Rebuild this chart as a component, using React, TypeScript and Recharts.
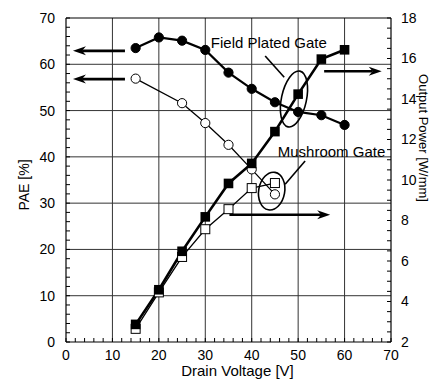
import React from 'react';
import {
  ComposedChart,
  Line,
  XAxis,
  YAxis,
  CartesianGrid,
  ReferenceLine,
  ReferenceDot,
  Label,
} from 'recharts';

// Field plated gate
const fpVoltage = [15, 20, 25, 30, 35, 40, 45, 50, 55, 60];
const fpPae = [63.5, 65.8, 65.1, 63.1, 58.2, 54.7, 51.8, 49.7, 49.0, 46.9];
const fpPower = [2.87, 4.58, 6.48, 8.18, 9.83, 10.82, 12.39, 14.24, 15.97, 16.43];

// Mushroom gate
const mgPaeVoltage = [15, 25, 30, 35, 40, 45];
const mgPae = [56.9, 51.6, 47.3, 42.6, 37.3, 31.9];
const mgPowerVoltage = [15, 20, 25, 30, 35, 40, 45];
const mgPower = [2.65, 4.45, 6.2, 7.57, 8.56, 9.6, 9.85];

// Axes
const xTicks = [0, 2, 4, 6, 8, 10, 12, 14, 16, 18, 20, 22, 24, 26, 28, 30, 32, 34, 36, 38, 40, 42, 44, 46, 48, 50, 52, 54, 56, 58, 60, 62, 64, 66, 68, 70];
const xMajor = [0, 10, 20, 30, 40, 50, 60, 70];
const paeTicks = [0, 2, 4, 6, 8, 10, 12, 14, 16, 18, 20, 22, 24, 26, 28, 30, 32, 34, 36, 38, 40, 42, 44, 46, 48, 50, 52, 54, 56, 58, 60, 62, 64, 66, 68, 70];
const paeMajor = [0, 10, 20, 30, 40, 50, 60, 70];
const powerTicks = [2, 2.5, 3, 3.5, 4, 4.5, 5, 5.5, 6, 6.5, 7, 7.5, 8, 8.5, 9, 9.5, 10, 10.5, 11, 11.5, 12, 12.5, 13, 13.5, 14, 14.5, 15, 15.5, 16, 16.5, 17, 17.5, 18];
const powerMajor = [2, 4, 6, 8, 10, 12, 14, 16, 18];
const gridX = [10, 20, 30, 40, 50, 60];
const gridY = [10, 20, 30, 40, 50, 60];

// Annotations (data coordinates)
const leftArrows = [
  { y: 62.9, from: 12.7, to: 1.5 },
  { y: 56.8, from: 12.7, to: 1.5 },
];
const rightArrows = [
  { y: 58.5, from: 55.6, to: 68 },
  { y: 27.5, from: 35.2, to: 56.9 },
];
const fieldLabel = { x: 31.2, y: 63.6, text: 'Field Plated Gate' };
const mushLabel = { x: 45.6, y: 40.0, text: 'Mushroom Gate' };
const fieldLeader = [{ x: 42.9, y: 61.8 }, { x: 47.0, y: 57.2 }];
const mushLeader = [{ x: 51.5, y: 39.1 }, { x: 47.2, y: 34.1 }];
const fieldEllipse = { x: 49.1, y: 52.5 };
const mushEllipse = { x: 44.3, y: 32.6 };

const FONT = 'Liberation Sans, Arial, sans-serif';

const zip = (xs: number[], ys: number[]) => xs.map((v, i) => ({ v, y: ys[i] }));

const fpPaeData = zip(fpVoltage, fpPae);
const fpPowerData = zip(fpVoltage, fpPower);
const mgPaeData = zip(mgPaeVoltage, mgPae);
const mgPowerData = zip(mgPowerVoltage, mgPower);

const FilledCircle = (p: any) => <circle key={p.index} cx={p.cx} cy={p.cy} r={4.6} fill="#000" stroke="#000" />;
const OpenCircle = (p: any) => <circle key={p.index} cx={p.cx} cy={p.cy} r={4.6} fill="#fff" stroke="#000" strokeWidth={1} />;
const FilledSquare = (p: any) => <rect key={p.index} x={p.cx - 4.8} y={p.cy - 4.8} width={9.6} height={9.6} fill="#000" />;
const OpenSquare = (p: any) => <rect key={p.index} x={p.cx - 4.5} y={p.cy - 4.5} width={9} height={9} fill="#fff" stroke="#000" strokeWidth={1} />;

const ArrowShape = (props: any) => {
  const { x1, y1, x2, y2 } = props;
  const dx = x2 - x1;
  const dy = y2 - y1;
  const len = Math.hypot(dx, dy) || 1;
  const ux = dx / len;
  const uy = dy / len;
  const hl = 13;
  const hw = 4.5;
  const bx = x2 - ux * hl;
  const by = y2 - uy * hl;
  const px = -uy;
  const py = ux;
  const nx = x2 - ux * hl * 0.7;
  const ny = y2 - uy * hl * 0.7;
  return (
    <g>
      <line x1={x1} y1={y1} x2={nx} y2={ny} stroke="#000" strokeWidth={2.6} />
      <polygon
        points={`${x2},${y2} ${bx + px * hw},${by + py * hw} ${nx},${ny} ${bx - px * hw},${by - py * hw}`}
        fill="#000"
      />
    </g>
  );
};

const LeaderShape = (props: any) => (
  <line x1={props.x1} y1={props.y1} x2={props.x2} y2={props.y2} stroke="#000" strokeWidth={1.6} />
);

const makeEllipse = (rx: number, ry: number, rot: number) => (p: any) => (
  <ellipse
    cx={p.cx}
    cy={p.cy}
    rx={rx}
    ry={ry}
    fill="none"
    stroke="#000"
    strokeWidth={1.6}
    transform={`rotate(${rot} ${p.cx} ${p.cy})`}
  />
);

const makeText = (text: string) => (p: any) => (
  <text x={p.cx} y={p.cy} fontFamily={FONT} fontSize={15} fill="#000" textAnchor="start">
    {text}
  </text>
);

const fmt = (major: number[]) => (v: number) => (major.includes(v) ? String(v) : '');

export default function App() {
  return (
    <div style={{ position: 'absolute', left: 0, top: 0, width: 432, height: 380, background: '#fff' }}>
      <ComposedChart width={432} height={380} margin={{ top: 10, right: 0, bottom: 8, left: 0 }}>
        <CartesianGrid
          xAxisId="b"
          yAxisId="l"
          verticalValues={gridX}
          horizontalValues={gridY}
          stroke="#333"
          strokeWidth={1}
        />
        <XAxis
          xAxisId="b"
          dataKey="v"
          type="number"
          domain={[0, 70]}
          ticks={xTicks}
          interval={0}
          tickFormatter={fmt(xMajor)}
          tickSize={-4}
          tickMargin={12}
          height={30}
          axisLine={{ stroke: '#000', strokeWidth: 1.2 }}
          tickLine={{ stroke: '#000' }}
          tick={{ fill: '#000', fontSize: 14, fontFamily: FONT }}
        >
          <Label
            content={(p: any) => {
              const vb = p.viewBox || { x: 66, y: 342, width: 325, height: 30 };
              return (
                <text
                  x={vb.x + vb.width / 2 + 9}
                  y={vb.y + 34}
                  fontFamily={FONT}
                  fontSize={15}
                  textAnchor="middle"
                  fill="#000"
                >
                  Drain Voltage [V]
                </text>
              );
            }}
          />
        </XAxis>
        <XAxis
          xAxisId="t"
          dataKey="v"
          orientation="top"
          type="number"
          domain={[0, 70]}
          ticks={xTicks}
          interval={0}
          tickFormatter={() => ''}
          tickSize={-4}
          height={8}
          axisLine={{ stroke: '#000', strokeWidth: 1.2 }}
          tickLine={{ stroke: '#000' }}
        />
        <YAxis
          yAxisId="l"
          type="number"
          domain={[0, 70]}
          ticks={paeTicks}
          interval={0}
          tickFormatter={fmt(paeMajor)}
          tickSize={-4}
          tickMargin={15}
          width={66}
          axisLine={{ stroke: '#000', strokeWidth: 1.2 }}
          tickLine={{ stroke: '#000' }}
          tick={{ fill: '#000', fontSize: 14, fontFamily: FONT }}
        >
          <Label
            content={(p: any) => {
              const vb = p.viewBox || { x: 0, y: 18, width: 66, height: 324 };
              const cx = vb.x + 24;
              const cy = vb.y + vb.height / 2 + 5;
              return (
                <text
                  x={cx}
                  y={cy}
                  fontFamily={FONT}
                  fontSize={14}
                  textAnchor="middle"
                  dominantBaseline="central"
                  fill="#000"
                  transform={`rotate(-90 ${cx} ${cy})`}
                >
                  PAE [%]
                </text>
              );
            }}
          />
        </YAxis>
        <YAxis
          yAxisId="r"
          orientation="right"
          type="number"
          domain={[2, 18]}
          ticks={powerTicks}
          interval={0}
          tickFormatter={fmt(powerMajor)}
          tickSize={-4}
          tickMargin={14}
          width={41}
          axisLine={{ stroke: '#000', strokeWidth: 1.2 }}
          tickLine={{ stroke: '#000' }}
          tick={{ fill: '#000', fontSize: 14, fontFamily: FONT, textAnchor: 'start' }}
        >
          <Label
            content={(p: any) => {
              const vb = p.viewBox || { x: 391, y: 18, width: 41, height: 324 };
              const cx = vb.x + 32;
              const cy = vb.y + vb.height / 2 - 42;
              return (
                <text
                  x={cx}
                  y={cy}
                  fontFamily={FONT}
                  fontSize={13}
                  textAnchor="middle"
                  dominantBaseline="central"
                  fill="#000"
                  transform={`rotate(90 ${cx} ${cy})`}
                >
                  Output Power [W/mm]
                </text>
              );
            }}
          />
        </YAxis>

        {leftArrows.concat(rightArrows).map((a, i) => (
          <ReferenceLine
            key={`arr${i}`}
            xAxisId="b"
            yAxisId="l"
            segment={[
              { x: a.from, y: a.y },
              { x: a.to, y: a.y },
            ]}
            shape={ArrowShape}
            ifOverflow="visible"
          />
        ))}
        <ReferenceLine xAxisId="b" yAxisId="l" segment={fieldLeader} shape={LeaderShape} ifOverflow="visible" />
        <ReferenceLine xAxisId="b" yAxisId="l" segment={mushLeader} shape={LeaderShape} ifOverflow="visible" />

        <Line
          xAxisId="b"
          yAxisId="l"
          data={mgPaeData}
          dataKey="y"
          stroke="#000"
          strokeWidth={1.3}
          dot={OpenCircle}
          isAnimationActive={false}
        />
        <Line
          xAxisId="b"
          yAxisId="r"
          data={mgPowerData}
          dataKey="y"
          stroke="#000"
          strokeWidth={1.3}
          dot={OpenSquare}
          isAnimationActive={false}
        />
        <Line
          xAxisId="b"
          yAxisId="l"
          data={fpPaeData}
          dataKey="y"
          stroke="#000"
          strokeWidth={2.2}
          dot={FilledCircle}
          isAnimationActive={false}
        />
        <Line
          xAxisId="b"
          yAxisId="r"
          data={fpPowerData}
          dataKey="y"
          stroke="#000"
          strokeWidth={2.6}
          dot={FilledSquare}
          isAnimationActive={false}
        />

        <ReferenceDot
          xAxisId="b"
          yAxisId="l"
          x={fieldEllipse.x}
          y={fieldEllipse.y}
          r={0}
          shape={makeEllipse(12.5, 28.5, 12)}
          ifOverflow="visible"
        />
        <ReferenceDot
          xAxisId="b"
          yAxisId="l"
          x={mushEllipse.x}
          y={mushEllipse.y}
          r={0}
          shape={makeEllipse(13, 19, 10)}
          ifOverflow="visible"
        />
        <ReferenceDot
          xAxisId="b"
          yAxisId="l"
          x={fieldLabel.x}
          y={fieldLabel.y}
          r={0}
          shape={makeText(fieldLabel.text)}
          ifOverflow="visible"
        />
        <ReferenceDot
          xAxisId="b"
          yAxisId="l"
          x={mushLabel.x}
          y={mushLabel.y}
          r={0}
          shape={makeText(mushLabel.text)}
          ifOverflow="visible"
        />
      </ComposedChart>
    </div>
  );
}
